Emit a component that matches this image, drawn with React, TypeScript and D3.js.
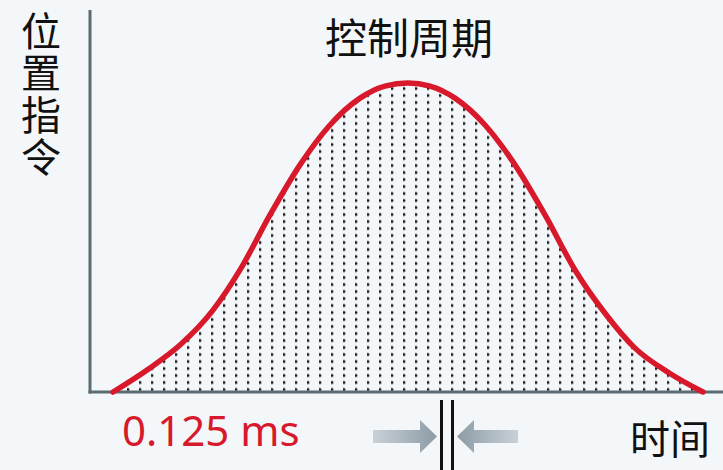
import React from "react";
import * as d3 from "d3";

const timeValues = [0, 37, 67, 100, 127, 157, 187, 217, 247, 272, 295, 317, 342, 372, 402, 432, 462, 492, 522, 557, 590];
const positionValues = [0, 7.8, 15.2, 26.5, 39.5, 57.3, 73.5, 86.4, 95.1, 99.0, 100, 99.0, 95.1, 86.4, 73.5, 57.3, 39.5, 25.5, 14.2, 6.0, 0];

const titleText = "控制周期";
const yLabelText = "位置指令";
const xLabelText = "时间";
const periodText = "0.125 ms";

const W = 723;
const H = 470;

export default function App() {
  const x = d3.scaleLinear().domain([0, 590]).range([113, 703]);
  const y = d3.scaleLinear().domain([0, 100]).range([392, 83]);
  const pts = timeValues.map((t, i) => [t, positionValues[i]] as [number, number]);
  const line = d3
    .line<[number, number]>()
    .x((d) => x(d[0]))
    .y((d) => y(d[1]))
    .curve(d3.curveMonotoneX);
  const area = d3
    .area<[number, number]>()
    .x((d) => x(d[0]))
    .y0(y(0))
    .y1((d) => y(d[1]))
    .curve(d3.curveMonotoneX);

  const cjk = "'Noto Sans CJK SC', 'Noto Sans', sans-serif";
  const axisColor = "#5b6b74";
  const red = "#d8192b";

  return (
    <div style={{ position: "fixed", left: 0, top: 0, width: W, height: H, background: "#f4f7f9" }}>
      <svg width={W} height={H} viewBox={`0 0 ${W} ${H}`} style={{ display: "block" }}>
        <defs>
          <pattern id="dots" patternUnits="userSpaceOnUse" x={127} y={y(0) - 4.5} width={12} height={7}>
            <circle cx={1} cy={2} r={1.5} fill="#1c1c1c" />
          </pattern>
          <linearGradient id="arrowL" x1="0" x2="1" y1="0" y2="0">
            <stop offset="0" stopColor="#c9d1d7" />
            <stop offset="1" stopColor="#8c9ba5" />
          </linearGradient>
          <linearGradient id="arrowR" x1="0" x2="1" y1="0" y2="0">
            <stop offset="0" stopColor="#8c9ba5" />
            <stop offset="1" stopColor="#c9d1d7" />
          </linearGradient>
        </defs>

        <path d={area(pts) || ""} fill="url(#dots)" />

        {/* axes */}
        <line x1={90} x2={90} y1={10} y2={393.5} stroke={axisColor} strokeWidth={3} />
        <line x1={88.5} x2={723} y1={392} y2={392} stroke={axisColor} strokeWidth={3} />

        <path d={line(pts) || ""} fill="none" stroke={red} strokeWidth={5.5} strokeLinecap="round" strokeLinejoin="round" />

        {/* titles */}
        <text x={409} y={54} textAnchor="middle" fontFamily={cjk} fontSize={42} fill="#111">
          {titleText}
        </text>
        <text
          x={41}
          y={11}
          fontFamily={cjk}
          fontSize={40}
          fill="#111"
          style={{ writingMode: "vertical-rl", letterSpacing: "2px" }}
        >
          {yLabelText}
        </text>
        <text x={670} y={454} textAnchor="middle" fontFamily={cjk} fontSize={40} fill="#111">
          {xLabelText}
        </text>
        <text x={122} y={446} fontFamily="'Noto Sans', sans-serif" fontSize={42} fill={red}>
          {periodText}
        </text>

        {/* control period marker */}
        <path d="M373,430 L420,430 L420,420 L437,436.5 L420,453 L420,443 L373,443 Z" fill="url(#arrowL)" />
        <path d="M518,430 L474,430 L474,420 L457,436.5 L474,453 L474,443 L518,443 Z" fill="url(#arrowR)" />
        <line x1={441.5} x2={441.5} y1={400} y2={470} stroke="#111" strokeWidth={3} />
        <line x1={452.5} x2={452.5} y1={400} y2={470} stroke="#111" strokeWidth={3} />
      </svg>
    </div>
  );
}
